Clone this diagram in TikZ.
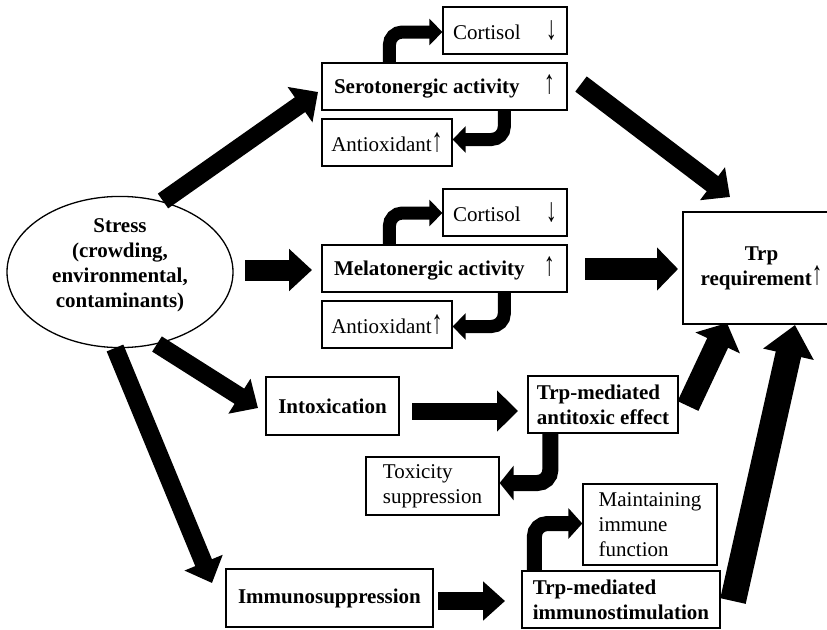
\documentclass[tikz,border=0pt]{standalone}
\usepackage{fontspec}
\usepackage{graphicx}
\setmainfont{Liberation Serif}
\usetikzlibrary{arrows.meta,shapes.geometric,calc}
\newcommand\myup{{\bfseries\scalebox{1.05}[1.6]{↑}}}
\newcommand\mydown{{\bfseries\scalebox{1.05}[1.6]{↓}}}
\newcommand\smallup{{\bfseries\raisebox{1pt}{\scalebox{1}[1.6]{↑}}}}
\begin{document}
\begin{tikzpicture}[x=1pt,y=-1pt,
  box/.style={draw, line width=1.3pt, inner sep=0pt, font=\fontsize{21}{25}\selectfont},
  bbox/.style={box, font=\fontsize{21}{25}\selectfont\bfseries},
  fat/.style n args={3}{line width=#1pt, -{Triangle[width=#2pt,length=#3pt]}},
  bent/.style n args={3}{line width=#1pt, rounded corners=13pt, -{Triangle[width=#2pt,length=#3pt]}}
]
\useasboundingbox (0,0) rectangle (827,629);
\clip (0,0) rectangle (827,629);

% nodes
\node[ellipse, draw, line width=1.3pt, inner sep=0pt, minimum width=226pt, minimum height=140pt,
      align=center, font=\fontsize{21}{25}\selectfont\bfseries] (stress) at (120,272)
  {Stress\\(crowding,\\environmental,\\contaminants)\\[-7pt]\mbox{}};

\node[box, minimum width=124pt, minimum height=47pt] (cort1) at (505,30.5) {\makebox[104pt]{Cortisol\hfill\mydown}};
\node[bbox, minimum width=245pt, minimum height=47pt] (sero) at (444.5,86.5) {\makebox[221pt]{Serotonergic activity\hfill\myup}};
\node[box, minimum width=130pt, minimum height=47pt] (anti1) at (387,142.5) {Antioxidant\myup};

\node[box, minimum width=124pt, minimum height=47pt] (cort2) at (505,212.5) {\makebox[104pt]{Cortisol\hfill\mydown}};
\node[bbox, minimum width=245pt, minimum height=47pt] (mel) at (444.5,268.5) {\makebox[221pt]{Melatonergic activity\hfill\myup}};
\node[box, minimum width=130pt, minimum height=47pt] (anti2) at (387,324.5) {Antioxidant\myup};

\node[bbox, minimum width=157pt, minimum height=112pt, align=center] (trp) at (761.5,268) {Trp\\requirement\smallup};

\node[bbox, minimum width=133pt, minimum height=58pt] (intox) at (332.5,406) {Intoxication};
\node[bbox, minimum width=150pt, minimum height=57pt, align=left] (antitox) at (603,404.5) {Trp-mediated\\antitoxic effect};
\node[box, minimum width=133pt, minimum height=58pt, align=left] (toxsup) at (432.5,486) {Toxicity\\suppression\hspace{16pt}};
\node[box, minimum width=134pt, minimum height=81pt, align=left] (maint) at (650,524.5) {Maintaining\hspace{16pt}\\immune\\function};
\node[bbox, minimum width=207pt, minimum height=58pt] (immsup) at (329.5,598) {Immunosuppression};
\node[bbox, minimum width=198pt, minimum height=57pt, align=left] (immstim) at (621,599.5) {Trp-mediated\\immunostimulation};

% free ends of the big arrows
\coordinate (s1) at (163,201); \coordinate (e1) at (318,92);
\coordinate (s2) at (245,270); \coordinate (e2) at (312,270);
\coordinate (s3) at (157,344); \coordinate (e3) at (258,408);
\coordinate (s4) at (115,348); \coordinate (e4) at (212,583);
\coordinate (s5) at (581,84);  \coordinate (e5) at (730,197);
\coordinate (s6) at (585,269); \coordinate (e6) at (678,269);
\coordinate (s7) at (412,411); \coordinate (e7) at (518,411);
\coordinate (s8) at (688,406); \coordinate (e8) at (727,323);
\coordinate (s9) at (733,601); \coordinate (e9) at (795,325);
\coordinate (s10) at (438,601); \coordinate (e10) at (505,601);

\draw[fat={18}{42}{22}] (s1) -- (e1);
\draw[fat={21}{41}{23}] (s2) -- (e2);
\draw[fat={18}{40}{22}] (s3) -- (e3);
\draw[fat={18}{40}{22}] (s4) -- (e4);
\draw[fat={19}{40}{22}] (s5) -- (e5);
\draw[fat={22}{42}{21}] (s6) -- (e6);
\draw[fat={17}{40}{21}] (s7) -- (e7);
\draw[fat={23}{48}{22}] (s8) -- (e8);
\draw[fat={26}{50}{30}] (s9) -- (e9);
\draw[fat={18}{38}{22}] (s10) -- (e10);

% bent arrows
\draw[bent={13}{26}{13}] ($(sero.north west)+(68,0)$) |- ($(cort1.west)+(0,1.5)$);
\draw[bent={13}{26}{13}] ($(sero.south west)+(183,0)$) |- ($(anti1.east)+(0,-3)$);
\draw[bent={13}{26}{13}] ($(mel.north west)+(68,0)$) |- ($(cort2.west)+(0,0.5)$);
\draw[bent={13}{26}{13}] ($(mel.south west)+(183,0)$) |- ($(anti2.east)+(0,2)$);
\draw[bent={16}{34}{14}] ($(antitox.south west)+(23,0)$) |- ($(toxsup.east)+(0,-3)$);
\draw[bent={15}{30}{14}] ($(immstim.north west)+(13,0)$) |- ($(maint.west)+(0,-1)$);
\end{tikzpicture}
\end{document}
